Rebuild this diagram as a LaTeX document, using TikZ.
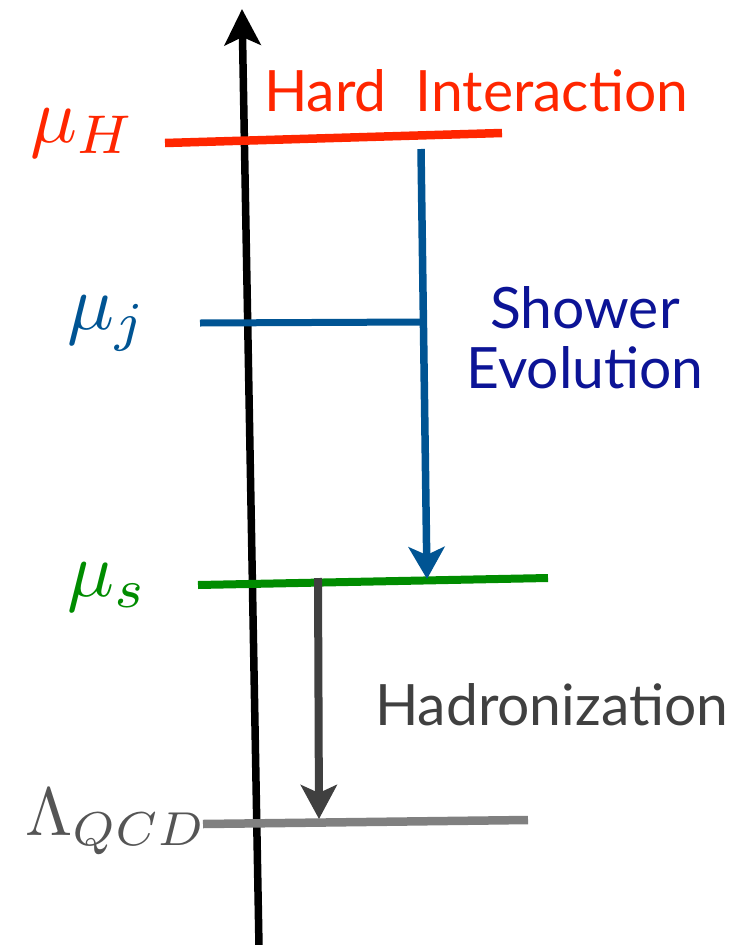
\documentclass[tikz,border=0pt]{standalone}
\usepackage{graphicx}
\usepackage{fontspec}
\setmainfont{Lato}
\usetikzlibrary{arrows.meta}
\definecolor{hardred}{RGB}{255,38,0}
\definecolor{jetblue}{RGB}{0,84,147}
\definecolor{shownavy}{RGB}{12,20,150}
\definecolor{softgreen}{RGB}{0,140,0}
\definecolor{qcdgray}{RGB}{128,128,128}
\definecolor{hadgray}{RGB}{64,64,64}
\definecolor{lamgray}{RGB}{85,85,85}
\tikzset{
  lbl/.style={inner sep=0pt, outer sep=0pt, anchor=base west},
  wordlbl/.style={inner sep=0pt, outer sep=0pt, font=\fontsize{57}{60}\selectfont},
  bigtip/.style={-{Stealth[length=#1, width=36pt, inset=8pt]}},
}
\newcommand{\bigmath}[2]{\scalebox{#1}{$#2$}}
\begin{document}
\begin{tikzpicture}[x=1pt,y=-1pt]
\useasboundingbox (0,0) rectangle (753,945);
% axis
\coordinate (axbot) at (259,947);
\coordinate (axtop) at (242,9);
\draw[line width=7.5pt, bigtip=36pt] (axbot) -- (axtop);
% levels
\coordinate (hl) at (165,143); \coordinate (hr) at (502,133);
\draw[hardred, line width=8.5pt] (hl) -- (hr);
\coordinate (jl) at (200,323); \coordinate (jr) at (421,322);
\draw[jetblue, line width=7pt] (jl) -- (jr);
\coordinate (sl) at (198,585); \coordinate (sr) at (548,578);
\draw[softgreen, line width=8pt] (sl) -- (sr);
\coordinate (ql) at (203,824); \coordinate (qr) at (528,820);
\draw[qcdgray, line width=8.5pt] (ql) -- (qr);
% arrows
\coordinate (bt) at (421,149); \coordinate (bb) at (427,579);
\draw[jetblue, line width=7.5pt, bigtip=32pt] (bt) -- (bb);
\coordinate (gt) at (318,578); \coordinate (gb) at (319,819);
\draw[hadgray, line width=8pt, bigtip=34pt] (gt) -- (gb);
% labels
\node[lbl, text=hardred] (muH) at (30,142) {\bigmath{7.8}{\mu_H}};
\node[lbl, text=jetblue] (muj) at (67,329) {\bigmath{7.8}{\mu_j}};
\node[lbl, text=softgreen] (mus) at (67,596) {\bigmath{7.8}{\mu_s}};
\node[lbl, text=lamgray] (lam) at (25,835) {\bigmath{6.8}{\Lambda_{QCD}}};
\node[wordlbl, lbl, text=hardred] (hard) at (264,111) {Hard\ \ Interaction};
\node[wordlbl, anchor=base, text=shownavy] (shower) at (585,328) {Shower};
\node[wordlbl, anchor=base, text=shownavy] (evol) at (585,388) {Evolution};
\node[wordlbl, lbl, text=hadgray] (hadr) at (375,725) {Hadronization};
\end{tikzpicture}
\end{document}
